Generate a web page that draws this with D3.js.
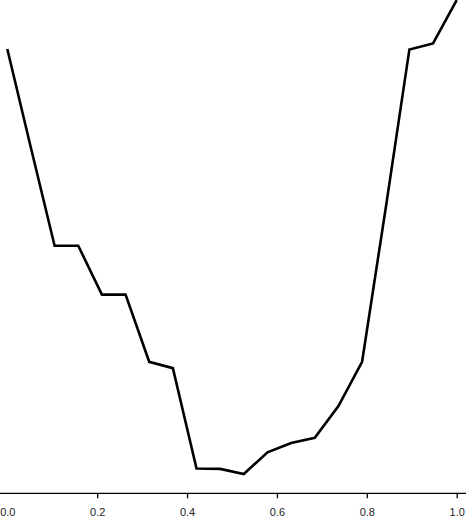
<!DOCTYPE html>
<html>
<head>
<meta charset="utf-8">
<script src="https://cdn.jsdelivr.net/npm/d3@7"></script>
<style>
  body { margin: 0; background: #fff; }
  svg { display: block; }
</style>
</head>
<body>
<svg id="chart" width="466" height="518"></svg>
<script>
// Data (20 evenly spaced points on 0..1)
var xValues = d3.range(20).map(function (i) { return i / 19; });
var yValues = [1.000, 0.767, 0.537, 0.537, 0.422, 0.422, 0.264, 0.249, 0.013, 0.012,
               0.000, 0.051, 0.073, 0.085, 0.160, 0.264, 0.626, 0.999, 1.013, 1.115];
var tickLabels = [0, 0.2, 0.4, 0.6, 0.8, 1.0];

var width = 466, height = 518;
var axisY = 493.3;

var svg = d3.select("#chart");

// Scales
var x = d3.scaleLinear().domain([0, 1]).range([7.3, 456.7]);
var y = d3.scaleLinear().domain([0, 1]).range([474, 49]);

// Axis
var axis = d3.axisBottom(x)
  .tickValues(tickLabels)
  .tickFormat(d3.format(".1f"))
  .tickSize(5)
  .tickSizeOuter(0)
  .tickPadding(10);

var g = svg.append("g").attr("transform", "translate(0," + axisY + ")").call(axis);
g.select(".domain").remove();
g.selectAll(".tick line").attr("stroke", "#000").attr("stroke-width", 1.3)
  .filter(function (d) { return d === 0; }).remove();
g.selectAll(".tick text")
  .attr("font-family", "'Liberation Sans', Arial, sans-serif")
  .attr("font-size", 11)
  .attr("fill", "#222");

// Full-width axis line
svg.append("line")
  .attr("x1", 0).attr("x2", width)
  .attr("y1", axisY).attr("y2", axisY)
  .attr("stroke", "#000").attr("stroke-width", 1.3);

// Curve
var line = d3.line()
  .x(function (d, i) { return x(xValues[i]); })
  .y(function (d) { return y(d); });

svg.append("path")
  .datum(yValues)
  .attr("d", line)
  .attr("fill", "none")
  .attr("stroke", "#000")
  .attr("stroke-width", 2.6)
  .attr("stroke-linejoin", "miter");
</script>
</body>
</html>
